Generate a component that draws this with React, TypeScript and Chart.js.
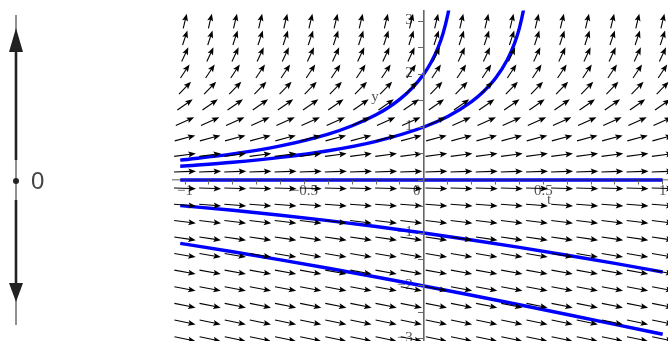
import { useEffect, useRef } from "react";
import { Chart, registerables } from "chart.js";

Chart.register(...registerables);

// Direction field of y' = e^y − 1 on a 20 × 20 grid: column positions, row positions, slope on each row
const fieldX = [-1, -0.8947, -0.7895, -0.6842, -0.5789, -0.4737, -0.3684, -0.2632, -0.1579, -0.0526,
  0.0526, 0.1579, 0.2632, 0.3684, 0.4737, 0.5789, 0.6842, 0.7895, 0.8947, 1];
const fieldY = [-3, -2.6842, -2.3684, -2.0526, -1.7368, -1.4211, -1.1053, -0.7895, -0.4737, -0.1579,
  0.1579, 0.4737, 0.7895, 1.1053, 1.4211, 1.7368, 2.0526, 2.3684, 2.6842, 3];
const fieldSlope = [-0.95, -0.932, -0.906, -0.872, -0.824, -0.758, -0.669, -0.546, -0.377, -0.146,
  0.171, 0.606, 1.202, 2.02, 3.141, 4.679, 6.788, 9.68, 13.64, 19.09];

// Solution curves through y(0) = 2, 1, 0, −1, −2
const solX_p2 = [-1.02, -0.8, -0.6, -0.4, -0.3, -0.2, -0.15, -0.1, -0.05, 0, 0.03, 0.06, 0.08, 0.1, 0.11, 0.112];
const solY_p2 = [0.374, 0.492, 0.644, 0.867, 1.023, 1.231, 1.363, 1.525, 1.729, 2, 2.216, 2.503, 2.76, 3.115, 3.358, 3.415];
const solX_p1 = [-1.02, -0.8, -0.6, -0.4, -0.2, 0, 0.1, 0.2, 0.25, 0.3, 0.35, 0.38, 0.4, 0.42, 0.425];
const solY_p1 = [0.26, 0.334, 0.426, 0.551, 0.729, 1, 1.199, 1.479, 1.67, 1.919, 2.273, 2.582, 2.865, 3.272, 3.408];
const solX_0 = [-1.02, 1];
const solY_0 = [0, 0];
const solX_m1 = [-1.02, -0.8, -0.6, -0.4, -0.2, 0, 0.2, 0.4, 0.6, 0.8, 1];
const solY_m1 = [-0.483, -0.572, -0.664, -0.766, -0.878, -1, -1.131, -1.271, -1.419, -1.574, -1.735];
const solX_m2 = [-1.02, -0.8, -0.6, -0.4, -0.2, 0, 0.2, 0.4, 0.6, 0.8, 1];
const solY_m2 = [-1.195, -1.354, -1.506, -1.665, -1.83, -2, -2.175, -2.354, -2.537, -2.723, -2.911];

// Axis tick marks and labelled ticks
const xTicks = [-1, -0.9, -0.8, -0.7, -0.6, -0.5, -0.4, -0.3, -0.2, -0.1, 0,
  0.1, 0.2, 0.3, 0.4, 0.5, 0.6, 0.7, 0.8, 0.9, 1];
const yTicks = [-3, -2.5, -2, -1.5, -1, -0.5, 0, 0.5, 1, 1.5, 2, 2.5, 3];
const xLabels = [-1, -0.5, 0, 0.5, 1];
const yLabels = [-3, -2, -1, 1, 2, 3];

const ARROW_LEN = 0.044; // arrow length as a fraction of the plot box
const LABEL_FONT = '15px "Liberation Serif", "DejaVu Serif", serif';
const LABEL_COLOR = "#555";

const fmt = (v: number) => (v < 0 ? "\u2212" + Math.abs(v) : String(v));

const zeroSize = (s: any) => {
  if (s.isHorizontal()) s.height = 0;
  else s.width = 0;
  s.paddingLeft = s.paddingRight = s.paddingTop = s.paddingBottom = 0;
};

const slopeFieldPlugin = {
  id: "slopeField",
  beforeDatasetsDraw(chart: any) {
    const { ctx } = chart;
    const xs = chart.scales.x;
    const ys = chart.scales.y;
    const x0 = xs.getPixelForValue(0);
    const y0 = ys.getPixelForValue(0);
    ctx.save();
    ctx.font = LABEL_FONT;
    ctx.fillStyle = LABEL_COLOR;
    ctx.textBaseline = "middle";
    ctx.textAlign = "center";
    xLabels.forEach((v) => {
      const px = xs.getPixelForValue(v) + (v === 0 ? -7 : 0);
      ctx.fillText(fmt(v), px, y0 + 11);
    });
    ctx.textAlign = "right";
    yLabels.forEach((v) => {
      ctx.fillText(fmt(v), x0 - 11, ys.getPixelForValue(v) - 1);
    });
    // axis names
    ctx.textAlign = "center";
    ctx.fillText("y", xs.getPixelForValue(-0.2045), ys.getPixelForValue(1.566));
    ctx.fillText("t", xs.getPixelForValue(0.524), ys.getPixelForValue(-0.377));
    ctx.restore();
  },
  afterDatasetsDraw(chart: any) {
    const { ctx } = chart;
    const idx = chart.data.datasets.findIndex((d: any) => d.label === "field");
    const meta = chart.getDatasetMeta(idx);
    const ds = chart.data.datasets[idx];
    const area = chart.chartArea;
    const xs = chart.scales.x;
    const ys = chart.scales.y;
    const sx = xs.max - xs.min;
    const sy = ys.max - ys.min;
    ctx.save();
    ctx.strokeStyle = "#000";
    ctx.fillStyle = "#000";
    ctx.lineWidth = 1.1;
    ctx.lineJoin = "miter";
    meta.data.forEach((el: any, i: number) => {
      const s = ds.data[i].s;
      const u = 1 / sx;
      const w = s / sy;
      const n = Math.hypot(u, w);
      const dx = (u / n) * ARROW_LEN * area.width;
      const dy = -(w / n) * ARROW_LEN * area.height;
      const len = Math.hypot(dx, dy);
      const ux = dx / len;
      const uy = dy / len;
      const tx = el.x - dx / 2;
      const ty = el.y - dy / 2;
      const hx = el.x + dx / 2;
      const hy = el.y + dy / 2;
      const hl = 7.5;
      const hw = 3;
      const bx = hx - ux * hl;
      const by = hy - uy * hl;
      ctx.beginPath();
      ctx.moveTo(tx, ty);
      ctx.lineTo(bx + ux * 2, by + uy * 2);
      ctx.stroke();
      ctx.beginPath();
      ctx.moveTo(hx, hy);
      ctx.lineTo(bx - uy * hw, by + ux * hw);
      ctx.lineTo(bx + ux * 1.5, by + uy * 1.5);
      ctx.lineTo(bx + uy * hw, by - ux * hw);
      ctx.closePath();
      ctx.fill();
    });
    ctx.restore();
  },
  afterDraw(chart: any) {
    // phase line for y' = e^y − 1: equilibrium at 0, flow away on both sides
    const { ctx } = chart;
    const y0 = chart.scales.y.getPixelForValue(0);
    const x = 16;
    ctx.save();
    ctx.strokeStyle = "#222";
    ctx.fillStyle = "#222";
    ctx.lineWidth = 1;
    ctx.beginPath();
    ctx.moveTo(x, 15);
    ctx.lineTo(x, 325);
    ctx.stroke();
    ctx.lineWidth = 2.6;
    ctx.beginPath();
    ctx.moveTo(x, 50);
    ctx.lineTo(x, 160);
    ctx.moveTo(x, 200);
    ctx.lineTo(x, 285);
    ctx.stroke();
    ctx.beginPath();
    ctx.moveTo(x, 28);
    ctx.lineTo(x - 7, 52);
    ctx.lineTo(x + 7, 52);
    ctx.closePath();
    ctx.fill();
    ctx.beginPath();
    ctx.moveTo(x, 302);
    ctx.lineTo(x - 7, 283);
    ctx.lineTo(x + 7, 283);
    ctx.closePath();
    ctx.fill();
    ctx.beginPath();
    ctx.arc(x, y0 + 1, 3, 0, Math.PI * 2);
    ctx.fill();
    ctx.fillStyle = "#444";
    ctx.font = '24px "Liberation Sans", Arial, sans-serif';
    ctx.textAlign = "left";
    ctx.textBaseline = "middle";
    ctx.fillText("0", 31, y0 + 2);
    ctx.restore();
  },
};

const curve = (xs: number[], ys: number[]) => ({
  label: "solution",
  data: xs.map((x, i) => ({ x, y: ys[i] })),
  showLine: true,
  borderColor: "#0000ff",
  backgroundColor: "#0000ff",
  borderWidth: 3.4,
  pointRadius: 0,
  cubicInterpolationMode: "monotone" as const,
  fill: false,
  clip: 0,
});

export default function App() {
  const ref = useRef<HTMLCanvasElement | null>(null);

  useEffect(() => {
    if (!ref.current) return;
    const fieldPoints: { x: number; y: number; s: number }[] = [];
    fieldY.forEach((y, j) => {
      fieldX.forEach((x) => fieldPoints.push({ x, y, s: fieldSlope[j] }));
    });

    const chart = new Chart(ref.current, {
      type: "scatter",
      data: {
        datasets: [
          curve(solX_p2, solY_p2),
          curve(solX_p1, solY_p1),
          curve(solX_0, solY_0),
          curve(solX_m1, solY_m1),
          curve(solX_m2, solY_m2),
          {
            label: "field",
            data: fieldPoints,
            pointRadius: 0,
            showLine: false,
          } as any,
        ],
      },
      options: {
        animation: false,
        responsive: false,
        devicePixelRatio: 1,
        events: [],
        layout: { padding: { left: 173.06, right: 15.36, top: 10.4, bottom: 10.4 } },
        plugins: { legend: { display: false }, tooltip: { enabled: false } },
        scales: {
          x: {
            type: "linear",
            min: -1.05,
            max: 1.05,
            position: { y: 0 } as any,
            afterBuildTicks: (s: any) => {
              s.ticks = xTicks.map((value) => ({ value }));
            },
            afterFit: zeroSize,
            ticks: { display: false },
            grid: { drawOnChartArea: false, drawTicks: true, tickLength: 4, color: "#666", tickWidth: 1, z: 1 },
            border: { display: true, color: "rgba(60,60,60,0.55)", width: 1.5, z: 1 },
          },
          y: {
            type: "linear",
            min: -3.2,
            max: 3.2,
            position: { x: 0 } as any,
            afterBuildTicks: (s: any) => {
              s.ticks = yTicks.map((value) => ({ value }));
            },
            afterFit: zeroSize,
            ticks: { display: false },
            grid: { drawOnChartArea: false, drawTicks: true, tickLength: 5, color: "#666", tickWidth: 1, z: 1 },
            border: { display: true, color: "#666", width: 1.6, z: 1 },
          },
        },
      },
      plugins: [slopeFieldPlugin],
    });
    return () => chart.destroy();
  }, []);

  return (
    <div style={{ position: "absolute", left: 0, top: 0, width: 668, height: 341, overflow: "hidden", background: "#fff" }}>
      <canvas ref={ref} width={690} height={360} style={{ display: "block" }} />
    </div>
  );
}
